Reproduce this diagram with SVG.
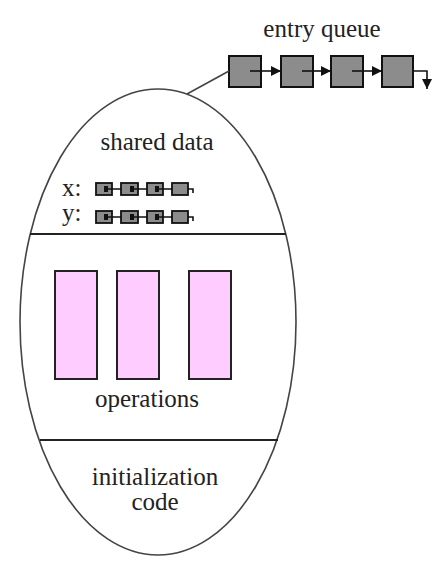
<svg xmlns="http://www.w3.org/2000/svg" width="443" height="571" viewBox="0 0 443 571">
<defs>
<style>
.lbl{font-size:25px;text-anchor:middle;}
.qb{fill:#8c8c8c;stroke:#111;stroke-width:2;}
.sb{fill:#8c8c8c;stroke:#111;stroke-width:1.8;}
.op{fill:#ffccff;stroke:#222;stroke-width:2;}
.ln{stroke:#111;stroke-width:1.6;fill:none;}
.div{stroke:#222;stroke-width:2;}
</style>
<marker id="ahb" markerWidth="10" markerHeight="10" refX="10" refY="5" orient="auto" markerUnits="userSpaceOnUse">
<path d="M0,0 L10,5 L0,10 Z" fill="#111"/>
</marker>
</defs>
<g font-family="'Liberation Serif', 'DejaVu Serif', serif" fill="#222">
<g id="monitor">
<ellipse cx="158" cy="322" rx="138" ry="233" fill="none" stroke="#444" stroke-width="1.6"/>
<line class="div" x1="30" y1="234" x2="286" y2="234"/>
<line class="div" x1="40" y1="440" x2="278" y2="440"/>
</g>
<g id="entry-queue">
<text class="lbl" x="322" y="37">entry queue</text>
<rect class="qb" x="229" y="56" width="32" height="31"/>
<rect class="qb" x="281" y="56" width="32" height="31"/>
<rect class="qb" x="331" y="56" width="32" height="31"/>
<rect class="qb" x="382" y="56" width="31" height="31"/>
</g>
<g id="shared-data">
<text class="lbl" x="157" y="150">shared data</text>
<text x="62" y="196" font-size="25">x:</text>
<text x="62" y="221" font-size="25">y:</text>
<rect class="sb" x="96" y="183" width="16" height="12"/>
<rect class="sb" x="121" y="183" width="17" height="12"/>
<rect class="sb" x="147" y="183" width="16" height="12"/>
<rect class="sb" x="172" y="183" width="16" height="12"/>
<rect class="sb" x="96" y="211" width="16" height="12"/>
<rect class="sb" x="121" y="211" width="17" height="12"/>
<rect class="sb" x="147" y="211" width="16" height="12"/>
<rect class="sb" x="172" y="211" width="16" height="12"/>
</g>
<g id="operations">
<rect class="op" x="55" y="271" width="42" height="108"/>
<rect class="op" x="117" y="271" width="42" height="108"/>
<rect class="op" x="189" y="271" width="42" height="108"/>
<text class="lbl" x="147" y="407">operations</text>
</g>
<g id="initialization-code">
<text class="lbl" x="155" y="485">initialization</text>
<text class="lbl" x="155" y="510">code</text>
</g>
<g id="connectors">
<line x1="187" y1="94" x2="229" y2="71" stroke="#444" stroke-width="1.6"/>
<line class="ln" x1="250" y1="71" x2="281" y2="71" marker-end="url(#ahb)"/>
<line class="ln" x1="302" y1="71" x2="331" y2="71" marker-end="url(#ahb)"/>
<line class="ln" x1="352" y1="71" x2="382" y2="71" marker-end="url(#ahb)"/>
<path class="ln" d="M413,71 H427 V89" marker-end="url(#ahb)"/>
<path class="ln" d="M106,189 H121 M132,189 H147 M157,189 H172 M188,189 H193 V193"/>
<path class="ln" d="M106,217 H121 M132,217 H147 M157,217 H172 M188,217 H193 V221"/>
<path d="M104,186 h4 v6 h-4 Z M130,186 h4 v6 h-4 Z M155,186 h4 v6 h-4 Z M104,214 h4 v6 h-4 Z M130,214 h4 v6 h-4 Z M155,214 h4 v6 h-4 Z" fill="#111"/>
</g>
</g>
</svg>
